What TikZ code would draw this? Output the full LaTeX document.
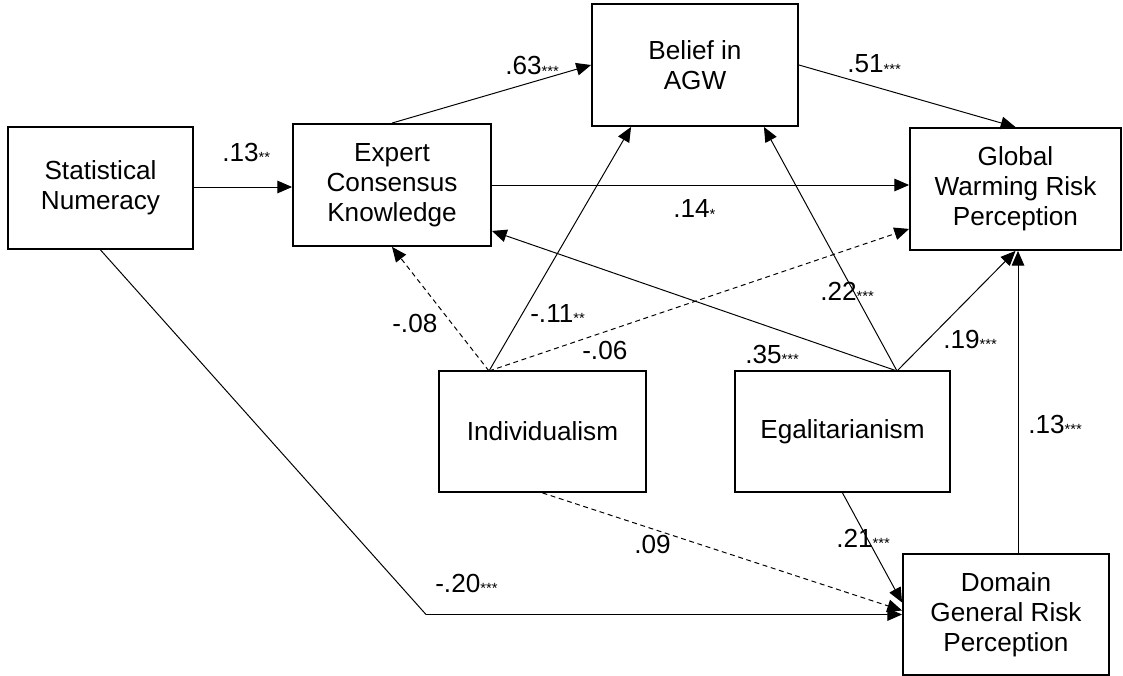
\documentclass[tikz,border=0pt]{standalone}
\usepackage{fontspec}
\setmainfont{Liberation Sans}
\usetikzlibrary{arrows.meta}
\newcommand{\sig}[1]{\raisebox{-0.8pt}{\fontsize{10.5}{10.5}\selectfont #1}}

\begin{document}
\begin{tikzpicture}[x = 0.025cm, y = -0.025cm]
\tikzstyle{VarBox}=[shape = rectangle,
                    draw,
                    line width = 1.3pt,
                    inner sep = 0pt,
                    align = center,
                    font = \fontsize{18.6}{21.4}\selectfont]
\tikzstyle{Path}=[line width = 0.7pt,
                  -{Triangle[length = 10.5pt, width = 9pt]}]
\tikzstyle{NsPath}=[Path, dash pattern = on 3.5pt off 2.6pt]
\tikzstyle{Coef}=[anchor = base west, inner sep = 0pt,
                  font = \fontsize{18.6}{21.4}\selectfont]
\useasboundingbox (0,0) rectangle (1123,676);
\node[VarBox, minimum width = 4.625cm, minimum height = 3.05cm] (sn) at (100.5,188) {Statistical\\Numeracy};
\node[VarBox, minimum width = 4.95cm, minimum height = 3.05cm] (eck) at (392,185) {Expert\\Consensus\\Knowledge};
\node[VarBox, minimum width = 5.15cm, minimum height = 3.05cm] (agw) at (695,65) {Belief in\\AGW};
\node[VarBox, minimum width = 5.275cm, minimum height = 3.05cm] (gwrp) at (1015.5,189) {Global\\Warming Risk\\Perception};
\node[VarBox, minimum width = 5.175cm, minimum height = 3.025cm] (ind) at (542.5,431.5) {Individualism};
\node[VarBox, minimum width = 5.375cm, minimum height = 3.025cm] (egal) at (842.5,431.5) {Egalitarianism};
\node[VarBox, minimum width = 5.15cm, minimum height = 3.025cm] (dgrp) at (1006,614.5) {Domain\\General Risk\\Perception};
\coordinate (indtop) at (489,371);
\coordinate (egaltop) at (897,371);
\coordinate (snbend) at (426,614.5);
\draw[Path] (sn.east |- 0,187) -- (eck.west |- 0,187);
\draw[Path] (eck.north) -- (agw.west);
\draw[Path] (agw.east) -- (gwrp.north);
\draw[Path] (eck.east) -- (eck.east -| gwrp.west);
\draw[Path] (indtop) -- ([xshift = 1cm]agw.south west);
\draw[NsPath] (indtop) -- (eck.south);
\draw[NsPath] (indtop) -- ([yshift = 0.55cm]gwrp.south west);
\draw[Path] (egaltop) -- ([xshift = -0.875cm]agw.south east);
\draw[Path] (egaltop) -- ([yshift = 0.4cm]eck.south east);
\draw[Path] (egaltop) -- (gwrp.south);
\draw[Path] ([xshift = 0.3cm]dgrp.north) -- ([xshift = 0.3cm]dgrp.north |- gwrp.south);
\draw[Path] (egal.south) -- ([yshift = 0.3cm]dgrp.west);
\draw[NsPath] (ind.south) -- ([yshift = 0.1cm]dgrp.west);
\draw[Path] (sn.south) -- (snbend) -- (dgrp.west);
\node[Coef] (c1) at (222,161) {.13\sig{**}};
\node[Coef] (c2) at (505,75) {.63\sig{***}};
\node[Coef] (c3) at (847,73) {.51\sig{***}};
\node[Coef] (c4) at (673,218) {.14\sig{*}};
\node[Coef] (c5) at (530,322) {-.11\sig{**}};
\node[Coef] (c6) at (392,332) {-.08};
\node[Coef] (c7) at (582,359) {-.06};
\node[Coef] (c8) at (820,300) {.22\sig{***}};
\node[Coef] (c9) at (745,363) {.35\sig{***}};
\node[Coef] (c10) at (943,348) {.19\sig{***}};
\node[Coef] (c11) at (1028,433) {.13\sig{***}};
\node[Coef] (c12) at (634,553) {.09};
\node[Coef] (c13) at (836,547) {.21\sig{***}};
\node[Coef] (c14) at (435,592) {-.20\sig{***}};
\end{tikzpicture}
\end{document}
